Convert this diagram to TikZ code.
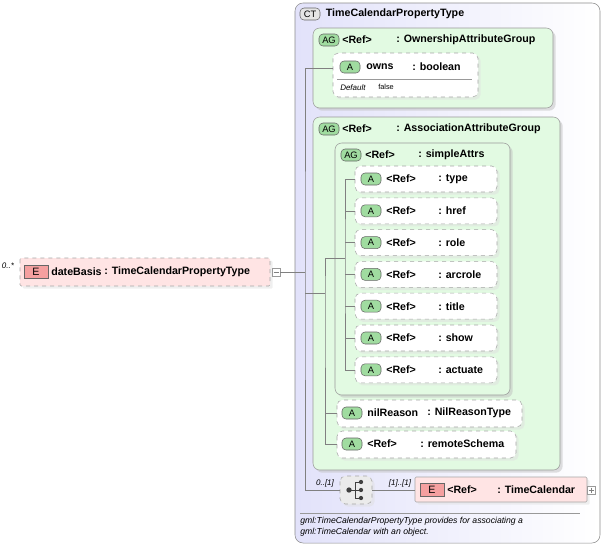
\documentclass[tikz,border=0pt]{standalone}
\usepackage{fontspec}
\setmainfont{Liberation Sans}
\usetikzlibrary{positioning, shadows, calc}
\definecolor{ctfill}{RGB}{226,226,250}
\definecolor{agfill}{RGB}{226,250,226}
\definecolor{badgeA}{RGB}{160,220,160}
\definecolor{elfill}{RGB}{255,228,228}
\definecolor{badgeE}{RGB}{245,160,160}
\begin{document}
\begin{tikzpicture}[
    x=0.75pt, y=-0.75pt,
    font=\fontsize{8}{9}\selectfont,
    ctbox/.style={draw=black!45, rounded corners=6pt, left color=ctfill, right color=white},
    agbox/.style={draw=black!40, rounded corners=5pt, fill=agfill, drop shadow={shadow xshift=2pt, shadow yshift=-2pt, fill=black!25}},
    attrbox/.style={draw=black!35, dashed, rounded corners=4pt, fill=white, drop shadow={shadow xshift=2pt, shadow yshift=-2pt, fill=black!12}},
    elbox/.style={draw=black!35, rounded corners=1pt, fill=elfill, drop shadow={shadow xshift=2pt, shadow yshift=-2pt, fill=black!12}},
    badge/.style={draw=black!60, rounded corners=3pt, fill=badgeA, minimum width=15pt, minimum height=9pt, inner sep=0pt, font=\fontsize{7}{8}\selectfont},
    ebadge/.style={draw=black!60, fill=badgeE, minimum width=18pt, minimum height=10pt, inner sep=0pt},
    ctbadge/.style={draw=black!60, rounded corners=3pt, fill=black!10, minimum width=15pt, minimum height=9pt, inner sep=0pt, font=\fontsize{7}{8}\selectfont},
    lbl/.style={anchor=west, inner sep=0pt, font=\fontsize{8}{9}\selectfont\bfseries},
    occ/.style={font=\fontsize{6}{7}\selectfont\itshape, inner sep=0pt},
    pm/.style={draw=black!40, fill=white, minimum size=6pt, inner sep=0pt},
    wire/.style={draw=black!50}
]
    \useasboundingbox (0,0) rectangle (605,547);

    % Complex type frame
    \draw[ctbox] (295,3) rectangle (600,543);
    \node[ctbadge] (ctb) at (310,14) {CT};
    \node[lbl, right=4pt of ctb] (ctname) {TimeCalendarPropertyType};

    % Ownership group
    \draw[agbox] (313,28) rectangle (553,108);
    \node[badge] (ag1b) at (329,40) {AG};
    \node[lbl] (ag1r) at (342,40) {<Ref>};
    \node[lbl] (ag1t) at (396,40) {: OwnershipAttributeGroup};
    \draw[attrbox] (333,53) rectangle (478,97);
    \node[badge] (ownsb) at (350,67) {A};
    \node[lbl] (owns) at (366,67) {owns};
    \node[lbl] (ownst) at (412,67) {: boolean};
    \draw[black!40] (337,79) -- (472,79);
    \node[anchor=west, inner sep=0pt, font=\fontsize{6}{7}\selectfont\itshape] (defk) at (340,88) {Default};
    \node[anchor=west, inner sep=0pt, font=\fontsize{5.5}{6}\selectfont] (defv) at (378,87) {false};
    \coordinate (owns-in) at (333,68);

    % Association group
    \draw[agbox] (313,117) rectangle (560,470);
    \node[badge] (ag2b) at (329,129) {AG};
    \node[lbl] (ag2r) at (342,129) {<Ref>};
    \node[lbl] (ag2t) at (396,129) {: AssociationAttributeGroup};

    % simpleAttrs group
    \draw[agbox] (335,143) rectangle (510,395);
    \node[badge] (ag3b) at (351,155) {AG};
    \node[lbl] (ag3r) at (365,155) {<Ref>};
    \node[lbl] (ag3t) at (418,155) {: simpleAttrs};
    \coordinate (sa-in) at (345,258);

    \foreach \nm [count=\i] in {type,href,role,arcrole,title,show,actuate} {
        \pgfmathsetmacro{\yc}{179+31.8*(\i-1)}
        \draw[attrbox] (355,\yc-13) rectangle (497,\yc+13);
        \node[badge] (a\i b) at (371,\yc) {A};
        \node[lbl] (a\i r) at (386,\yc) {<Ref>};
        \node[lbl] (a\i t) at (438,\yc) {: \nm};
        \coordinate (a\i) at (355,\yc);
    }

    \draw[attrbox] (337,400) rectangle (522,427);
    \node[badge] (nilb) at (352,413) {A};
    \node[lbl] (nil) at (367,413) {nilReason};
    \node[lbl] (nilt) at (427,413) {: NilReasonType};
    \coordinate (nil-in) at (337,413);

    \draw[attrbox] (337,431) rectangle (516,458);
    \node[badge] (rsb) at (352,444) {A};
    \node[lbl] (rsr) at (367,444) {<Ref>};
    \node[lbl] (rst) at (420,444) {: remoteSchema};
    \coordinate (rs-in) at (337,444);

    % Sequence and element
    \draw[attrbox, fill=black!8] (340,476) rectangle (372,504);
    \fill[black!75] (349,490) circle (2pt) (361,482) circle (1.6pt) (361,490) circle (1.6pt) (361,498) circle (1.6pt);
    \draw[black!75] (349,490) -- (355,490) (355,482) -- (355,498) (355,482) -- (361,482) (355,498) -- (361,498) (355,490) -- (361,490);
    \coordinate (seq-in) at (340,490);
    \coordinate (seq-out) at (372,490);
    \node[occ] (occ1) at (325,483) {0..[1]};
    \node[occ] (occ2) at (400,483) {[1]..[1]};
    \draw[elbox] (415,477) rectangle (587,502);
    \node[ebadge] (tcb) at (432,490) {E};
    \node[lbl] (tcr) at (447,490) {<Ref>};
    \node[lbl] (tct) at (497,490) {: TimeCalendar};
    \node[pm] (tcpm) at (591,490) {};
    \draw[black!50] (588.5,490) -- (593.5,490) (591,487.5) -- (591,492.5);
    \coordinate (tc-in) at (415,490);

    % Documentation
    \draw[black!40] (300,513) -- (580,513);
    \node[anchor=north west, inner sep=0pt, align=left, font=\fontsize{6.5}{8}\selectfont\itshape] (doc) at (300,517)
        {gml:TimeCalendarPropertyType provides for associating a\\gml:TimeCalendar with an object.};

    % Root element
    \node[occ] (occ0) at (8,266) {0..*};
    \draw[elbox, dashed] (20,258) rectangle (270,286);
    \node[ebadge] (dbb) at (36,272) {E};
    \node[lbl] (db) at (51,272) {dateBasis};
    \node[lbl] (dbt) at (104,272) {: TimeCalendarPropertyType};
    \node[pm] (dbpm) at (276,272) {};
    \draw[black!50] (273.5,272) -- (278.5,272);

    % Connectors
    \coordinate (j1) at (305,272);
    \coordinate (j2) at (325,293);
    \coordinate (j3) at (345,258);
    \draw[wire] (dbpm) -- (j1);
    \draw[wire] (owns-in) -| (j1) |- (seq-in);
    \draw[wire] (305,293) -- (j2);
    \draw[wire] (sa-in) -| (j2) |- (rs-in);
    \draw[wire] (325,413) -- (nil-in);
    \draw[wire] (a1) -| (j3) |- (a7);
    \foreach \i in {2,...,6} \draw[wire] (345,0 |- a\i) -- (a\i);
    \draw[wire] (seq-out) -- (tc-in);
\end{tikzpicture}
\end{document}
